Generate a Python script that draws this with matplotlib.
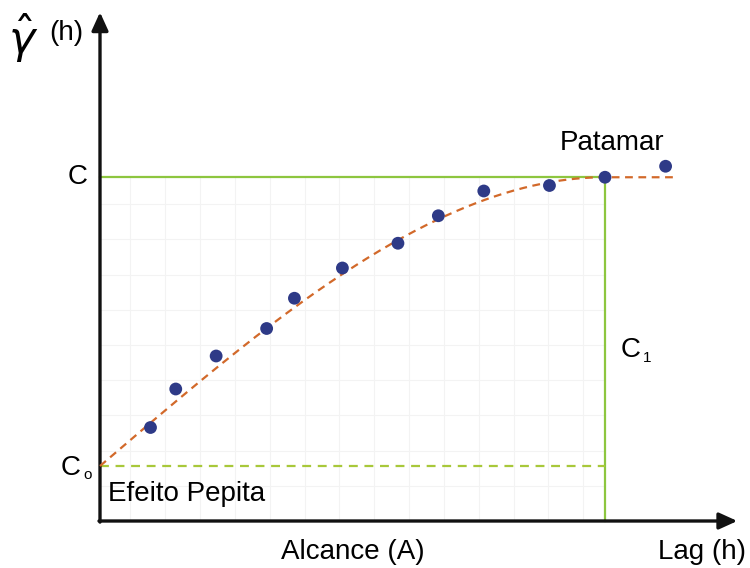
import numpy as np
import matplotlib
matplotlib.use("Agg")
import matplotlib.pyplot as plt

plt.rcParams['font.family'] = ['Liberation Sans', 'DejaVu Sans']

# Experimental semivariogram (lag, semivariance)
lag = [1.0, 1.5, 2.3, 3.3, 3.85, 4.8, 5.9, 6.7, 7.6, 8.9, 10.0, 11.2]
gamma = [1.7, 2.4, 3.0, 3.5, 4.05, 4.6, 5.05, 5.55, 6.0, 6.1, 6.25, 6.45]

# Spherical model parameters
nugget = 1.0       # C0
sill = 6.25        # C = C0 + C1
range_a = 10.0     # A
h_max = 11.4

fig = plt.figure(figsize=(7.5, 5.68), dpi=100)
ax = fig.add_axes([0, 0, 1, 1])
ax.set_xlim(-100 / 50.5, 650 / 50.5)
ax.set_ylim(-47 / 55, 521 / 55)
ax.axis('off')

# faint background grid inside the sill/range box
for gx in np.arange(0.6, range_a, 0.69):
    ax.plot([gx, gx], [0, sill], color='#f3f3f3', lw=0.8, zorder=0)
for gy in np.arange(0.64, sill, 0.64):
    ax.plot([0, range_a], [gy, gy], color='#f3f3f3', lw=0.8, zorder=0)

# axes with arrows
ax.annotate('', xy=(12.62, 0), xytext=(-0.02, 0),
            arrowprops=dict(arrowstyle='-|>,head_length=1.1,head_width=0.5',
                            lw=2.4, color='#111111', shrinkA=0, shrinkB=0), zorder=3)
ax.annotate('', xy=(0, 9.25), xytext=(0, -0.02),
            arrowprops=dict(arrowstyle='-|>,head_length=1.1,head_width=0.5',
                            lw=2.4, color='#111111', shrinkA=0, shrinkB=0), zorder=3)

# sill and range lines
ax.plot([0, range_a], [sill, sill], color='#8dc63f', lw=1.6, zorder=2)
ax.plot([range_a, range_a], [0, sill], color='#8dc63f', lw=1.6, zorder=2)
ax.plot([0, range_a], [nugget, nugget], color='#a8c83a', lw=1.6,
        linestyle=(0, (4, 3)), zorder=2)

# spherical model curve
h = np.linspace(0, h_max, 300)
r = np.clip(h / range_a, 0, 1)
model = nugget + (sill - nugget) * (1.5 * r - 0.5 * r ** 3)
ax.plot(h, model, color='#d2692a', lw=1.6, linestyle=(0, (3.5, 2.5)), zorder=4)

# experimental points
ax.scatter(lag, gamma, s=85, color='#2e3a87', zorder=5, edgecolors='none')

fs = 20
ax.text(-0.44, sill, 'C', fontsize=fs, ha='center', va='center')
ax.text(-0.58, nugget - 0.03, 'C', fontsize=fs, ha='center', va='center')
ax.text(-0.25, nugget - 0.16, 'o', fontsize=11, ha='center', va='center')
ax.text(0.16, 0.49, 'Efeito Pepita', fontsize=fs, ha='left', va='center')
ax.text(10.13, 6.87, 'Patamar', fontsize=fs, ha='center', va='center')
ax.text(10.5, 3.11, 'C', fontsize=fs, ha='center', va='center')
ax.text(10.83, 2.96, '1', fontsize=11, ha='center', va='center')
ax.text(5.0, -0.56, 'Alcance (A)', fontsize=fs, ha='center', va='center')
ax.text(11.92, -0.56, 'Lag (h)', fontsize=fs, ha='center', va='center')
ax.text(-1.53, 8.78, r'$\hat{\gamma}$', fontsize=32, ha='center', va='center')
ax.text(-0.66, 8.87, '(h)', fontsize=fs, ha='center', va='center')

fig.savefig('out.png', dpi=100)
